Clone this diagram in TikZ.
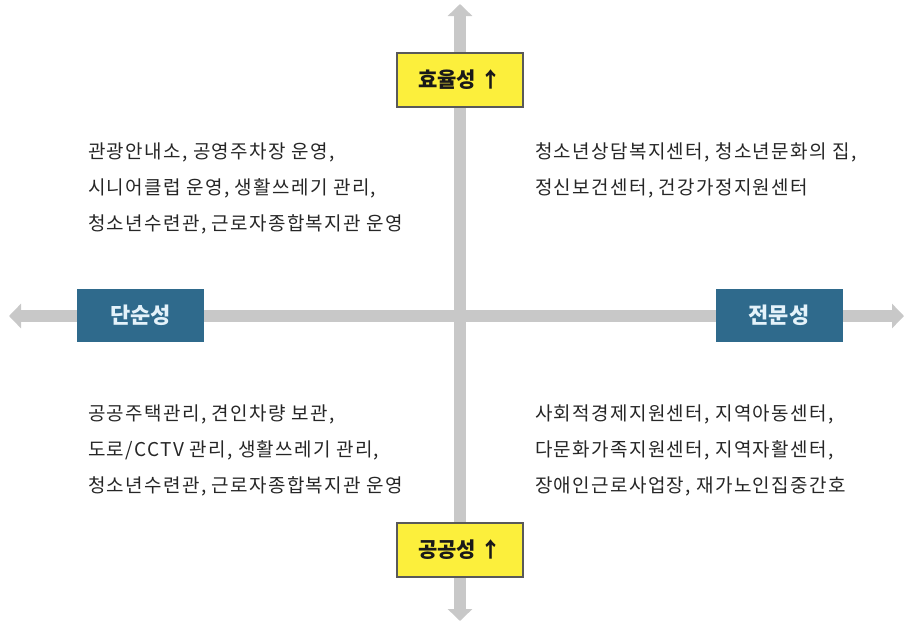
\documentclass[tikz,border=0pt]{standalone}
\usepackage{fontspec}
\setmainfont{Noto Sans CJK KR}
\newfontfamily\bodyfont[LetterSpace=7]{Noto Sans CJK KR}
\usetikzlibrary{arrows.meta}
\definecolor{axisgray}{HTML}{C8C8C8}
\definecolor{ybox}{HTML}{FCEF3C}
\definecolor{bbox}{HTML}{2F6A8C}
\definecolor{btext}{HTML}{E4F2FA}
\definecolor{bodytext}{HTML}{262626}
\tikzset{
  axisline/.style={draw=axisgray, line width=12pt, -{Triangle[width=24pt,length=12pt]}},
  yellowbox/.style={draw=black!65, line width=1.3pt, fill=ybox, minimum width=126pt, minimum height=54pt, inner sep=0pt, font=\fontsize{21}{24}\selectfont\bfseries, text=black!90},
  bluebox/.style={fill=bbox, minimum width=127pt, minimum height=53pt, inner sep=0pt, font=\fontsize{22}{25}\selectfont\bfseries, text=btext},
  bodyblock/.style={anchor=west, align=left, inner sep=0pt, text=bodytext, font=\bodyfont\fontsize{19}{36}\selectfont}
}
\begin{document}
\begin{tikzpicture}[x=1pt, y=-1pt]
\useasboundingbox (0,0) rectangle (905,625);
\coordinate (vtop) at (460,4);
\coordinate (vbot) at (460,621);
\coordinate (hleft) at (9,316);
\coordinate (hright) at (904,316);
\coordinate (center) at (460,316);
\draw[axisline] (center) -- (vtop);
\draw[axisline] (center) -- (vbot);
\draw[axisline] (center) -- (hleft);
\draw[axisline] (center) -- (hright);
\node[yellowbox] (eff) at (460,80) {효율성 ↑};
\node[yellowbox] (pub) at (460,550) {공공성 ↑};
\node[bluebox] (simp) at (140.5,315.5) {단순성};
\node[bluebox] (spec) at (779,315.5) {전문성};
\node[bodyblock] (tl) at (88,188) {관광안내소, 공영주차장 운영,\\시니어클럽 운영, 생활쓰레기 관리,\\청소년수련관, 근로자종합복지관 운영};
\node[bodyblock] (tr) at (535,170) {청소년상담복지센터, 청소년문화의 집,\\정신보건센터, 건강가정지원센터};
\node[bodyblock] (bl) at (88,450) {공공주택관리, 견인차량 보관,\\도로/CCTV 관리, 생활쓰레기 관리,\\청소년수련관, 근로자종합복지관 운영};
\node[bodyblock] (br) at (535,450) {사회적경제지원센터, 지역아동센터,\\다문화가족지원센터, 지역자활센터,\\장애인근로사업장, 재가노인집중간호};
\end{tikzpicture}
\end{document}
